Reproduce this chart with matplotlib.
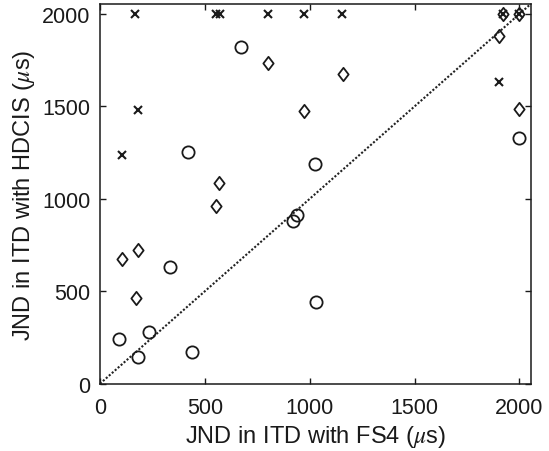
import matplotlib
matplotlib.use("Agg")
import matplotlib.pyplot as plt
from matplotlib.path import Path

plt.rcParams['font.family'] = ['Liberation Sans', 'DejaVu Sans']
plt.rcParams['mathtext.fontset'] = 'stix'

# JND in ITD (microseconds): FS4 (x) vs HDCIS (y), three listener groups
cross_fs4 = [167, 555, 572, 801, 974, 1155, 183, 106, 1903, 1920, 1998]
cross_hdcis = [2000, 2000, 2000, 2000, 2000, 2000, 1483, 1239, 1634, 2000, 2000]

diamond_fs4 = [801, 974, 1157, 566, 555, 183, 106, 170, 1903, 1920, 1998, 1998]
diamond_hdcis = [1735, 1474, 1676, 1088, 964, 724, 672, 463, 1883, 2000, 2000, 1486]

circle_fs4 = [672, 421, 1027, 1998, 919, 941, 1031, 335, 89, 232, 183, 437]
circle_hdcis = [1823, 1254, 1188, 1331, 879, 914, 442, 632, 242, 279, 142, 171]

x_ticks = [0, 500, 1000, 1500, 2000]
y_ticks = [0, 500, 1000, 1500, 2000]
axis_max = 2054

fig = plt.figure(figsize=(5.49, 4.52), dpi=100)
ax = fig.add_axes([0.1821, 0.1489, 0.9667 - 0.1821, 0.9889 - 0.1489])

# unity line
ax.plot([0, axis_max], [0, axis_max], color='#222222', linestyle=(0, (1, 0.9)),
        linewidth=1.5, zorder=1)

diamond = Path([(0, 1), (0.77, 0), (0, -1), (-0.77, 0), (0, 1)],
               [Path.MOVETO, Path.LINETO, Path.LINETO, Path.LINETO, Path.CLOSEPOLY])

ax.plot(circle_fs4, circle_hdcis, linestyle='none', marker='o', markersize=8.8,
        markerfacecolor='none', markeredgecolor='#1a1a1a', markeredgewidth=1.3, zorder=3)
ax.plot(diamond_fs4, diamond_hdcis, linestyle='none', marker=diamond, markersize=9.6,
        markerfacecolor='none', markeredgecolor='#1a1a1a', markeredgewidth=1.3, zorder=3)
ax.plot(cross_fs4, cross_hdcis, linestyle='none', marker='x', markersize=5.5,
        markeredgecolor='#1a1a1a', markeredgewidth=1.5, zorder=3)

ax.set_xlim(0, axis_max)
ax.set_ylim(0, axis_max)
ax.set_xticks(x_ticks)
ax.set_yticks(y_ticks)
ax.tick_params(direction='in', length=4, width=1, top=True, right=True,
               labelsize=15.5, colors='#1a1a1a')
ax.tick_params(axis='x', pad=9.5)
ax.tick_params(axis='y', pad=6.8)
for s in ax.spines.values():
    s.set_linewidth(1.1)
    s.set_color('#1a1a1a')

ax.set_xlabel(r'JND in ITD with FS4 ($\mu$s)', fontsize=17, color='#1a1a1a', labelpad=3.5)
ax.set_ylabel(r'JND in ITD with HDCIS ($\mu$s)', fontsize=17, color='#1a1a1a', labelpad=3.6)

fig.savefig('out.png', dpi=100)
